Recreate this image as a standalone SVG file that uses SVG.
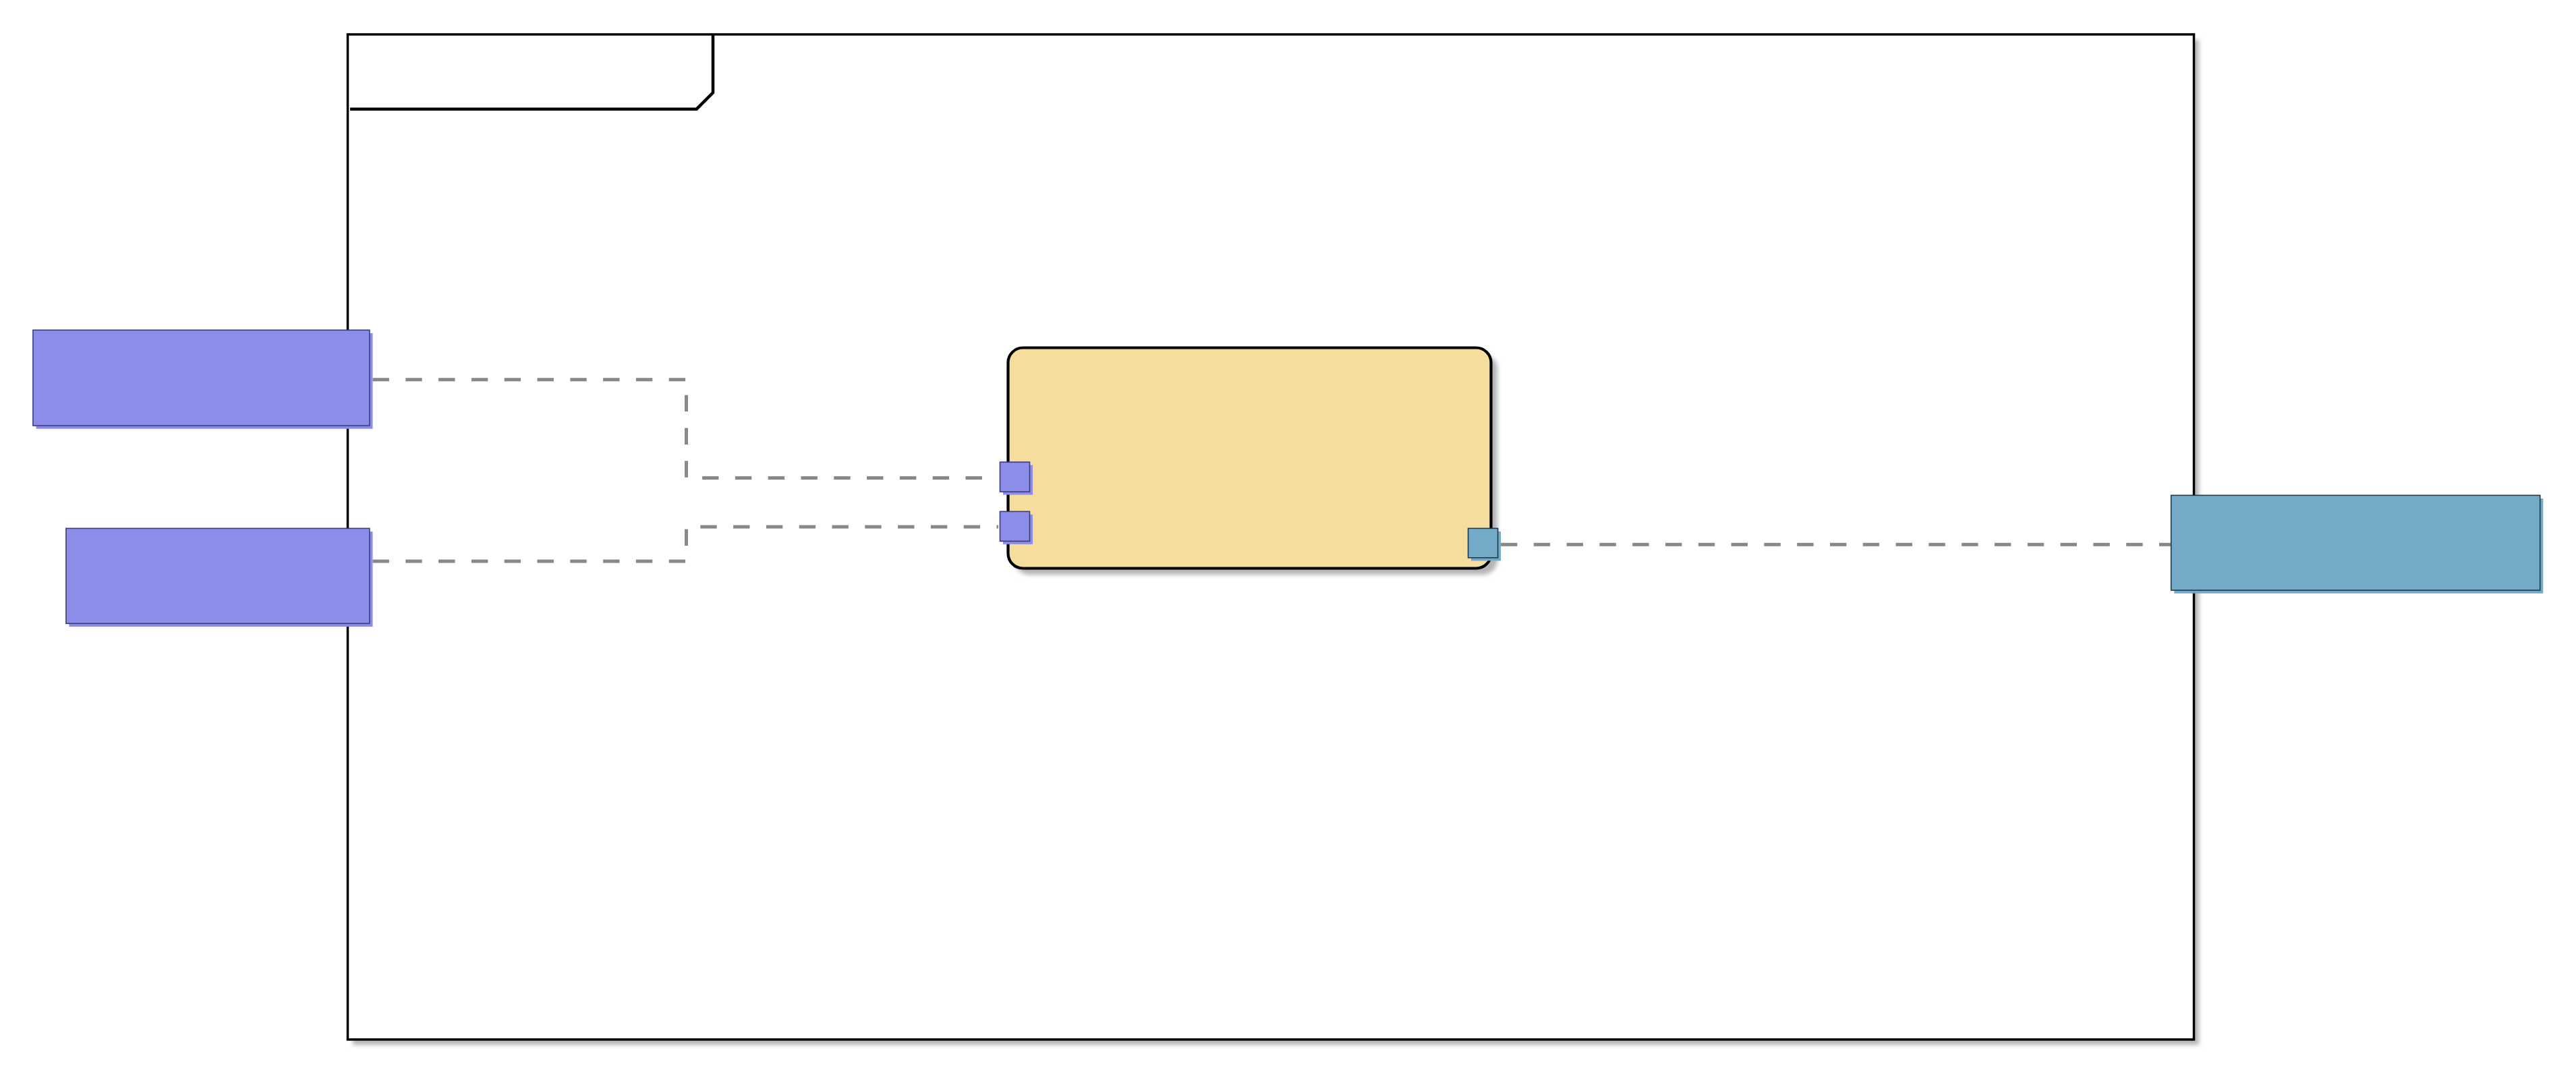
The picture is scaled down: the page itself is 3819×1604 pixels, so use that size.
<svg xmlns="http://www.w3.org/2000/svg" width="3819" height="1604" viewBox="0 0 3819 1604">
<defs>
<style>
.blue{fill:#8b8de8;}
.bluebd{fill:#8b8de8;stroke:#3a3e78;stroke-width:1.6;}
.teal{fill:#72aac8;}
.tealbd{fill:#72aac8;stroke:#1e3a4c;stroke-width:1.6;}
.conn{fill:none;stroke:#888888;stroke-width:5;stroke-dasharray:24.4 24.4;}
.frame{fill:#ffffff;stroke:#000000;stroke-width:3.5;}
.tab{fill:none;stroke:#000000;stroke-width:4.5;stroke-linejoin:miter;}
.comp{fill:#f6dc9d;stroke:#000000;stroke-width:4.2;}
.shade{fill:#b4b4b4;}
</style>
<filter id="blur" x="-10%" y="-10%" width="120%" height="120%">
<feGaussianBlur stdDeviation="3"/>
</filter>
</defs>
<rect width="3819" height="1604" fill="#ffffff"/>
<g id="frame">
<rect class="shade" x="523" y="59" width="2737" height="1490" filter="url(#blur)"/>
<rect class="frame" x="515.5" y="51" width="2737" height="1490"/>
<path class="tab" d="M519,161.7 H1032.7 L1057,137.3 V51"/>
</g>
<g id="connectors">
<path class="conn" d="M552.5,562.7 H1017.5 V708.5 H1480"/>
<path class="conn" d="M552.5,832 H1017.5 V781 H1480"/>
<path class="conn" d="M2225,807.3 H3218.7"/>
</g>
<g id="component">
<rect class="shade" x="1504" y="525" width="716" height="327" rx="22" ry="22" filter="url(#blur)"/>
<rect class="comp" x="1494.5" y="515.5" width="716" height="327" rx="22" ry="22"/>
</g>
<g id="port-in-1">
<rect class="blue" x="1487" y="689.5" width="44" height="44"/>
<rect class="bluebd" x="1482.5" y="685" width="44" height="44"/>
</g>
<g id="port-in-2">
<rect class="blue" x="1487" y="762.8" width="44" height="44"/>
<rect class="bluebd" x="1482.5" y="758.3" width="44" height="44"/>
</g>
<g id="port-out">
<rect class="teal" x="2181" y="787.8" width="44" height="43.5"/>
<rect class="tealbd" x="2176.6" y="783.3" width="44" height="43.5"/>
</g>
<g id="node-left-1">
<rect class="blue" x="53.5" y="494" width="499" height="141.7"/>
<rect class="bluebd" x="48.9" y="489.3" width="499" height="141.7"/>
</g>
<g id="node-left-2">
<rect class="blue" x="102.5" y="788" width="450" height="141"/>
<rect class="bluebd" x="97.9" y="783.3" width="450" height="141"/>
</g>
<g id="node-right">
<rect class="teal" x="3223.3" y="739" width="547" height="140.7"/>
<rect class="tealbd" x="3218.7" y="734.3" width="547" height="140.7"/>
</g>
</svg>
